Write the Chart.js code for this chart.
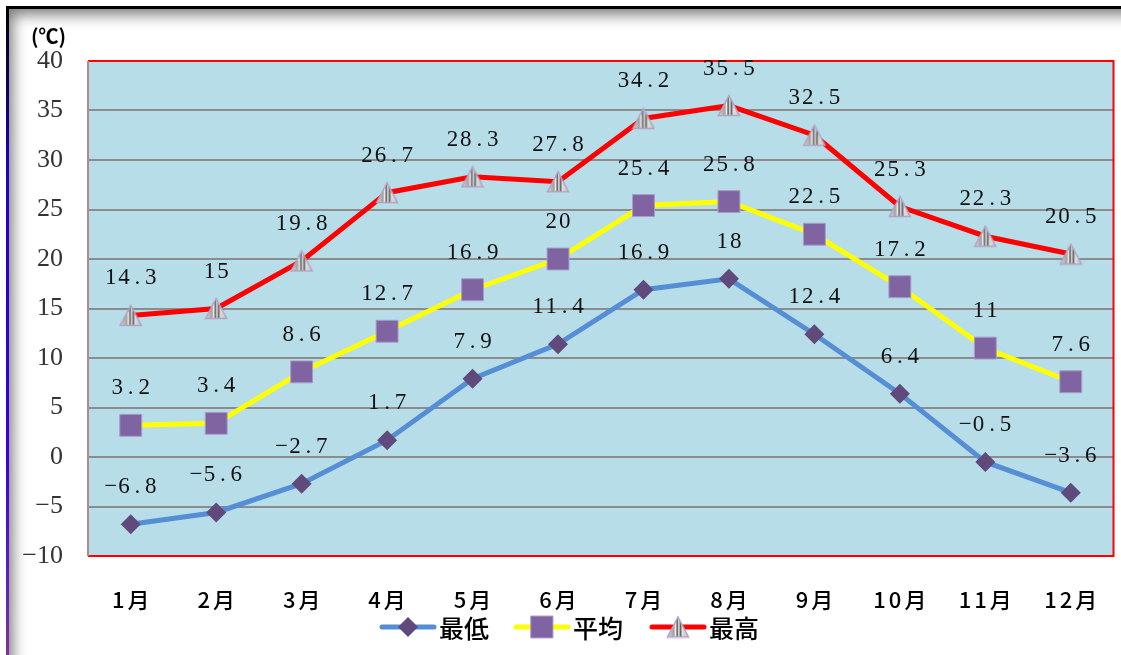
<!DOCTYPE html>
<html>
<head>
<meta charset="utf-8">
<script src="https://cdn.jsdelivr.net/npm/chart.js@4"></script>
<style>
html,body{margin:0;padding:0;background:#fff;}
#wrap{position:relative;width:1121px;height:655px;overflow:hidden;}
#frame{position:absolute;left:7px;top:6px;right:-30px;bottom:-30px;border-top:3px solid #000;box-shadow:inset 12px 12px 14px -6px rgba(0,0,0,.5);}
#lbar{position:absolute;left:6px;top:6px;width:3px;bottom:0;background:linear-gradient(#000,#2000c0 25%,#3a00e0 70%,#8030a0);}
canvas{position:absolute;left:0;top:0;}
</style>
</head>
<body>
<div id="wrap">
  <div id="frame"></div>
  <div id="lbar"></div>
  <canvas id="tempChart" width="1130" height="655"></canvas>
</div>
<script>
const months = ['1月','2月','3月','4月','5月','6月','7月','8月','9月','10月','11月','12月'];
const lowTemps  = [-6.8, -5.6, -2.7, 1.7, 7.9, 11.4, 16.9, 18, 12.4, 6.4, -0.5, -3.6];
const avgTemps  = [3.2, 3.4, 8.6, 12.7, 16.9, 20, 25.4, 25.8, 22.5, 17.2, 11, 7.6];
const highTemps = [14.3, 15, 19.8, 26.7, 28.3, 27.8, 34.2, 35.5, 32.5, 25.3, 22.3, 20.5];
const seriesNames = ['最低','平均','最高'];
const yMin = -10, yMax = 40, yStep = 5;

function fmt(v){ return v < 0 ? '\u2212' + Math.abs(v) : String(v); }

// striped grey triangle used as the marker for 最高
function makeTriangle(){
  const c = document.createElement('canvas');
  c.width = 24; c.height = 23;
  const g = c.getContext('2d');
  const grad = g.createLinearGradient(2,0,22,0);
  grad.addColorStop(0,'#d8d8d8');
  grad.addColorStop(0.3,'#a0a0a0');
  grad.addColorStop(0.38,'#f4f4f4');
  grad.addColorStop(0.46,'#505050');
  grad.addColorStop(0.54,'#f0f0f0');
  grad.addColorStop(0.62,'#606060');
  grad.addColorStop(0.72,'#e0e0e0');
  grad.addColorStop(1,'#c0c0c0');
  g.beginPath();
  g.moveTo(12,1.5); g.lineTo(22.5,21.5); g.lineTo(1.5,21.5); g.closePath();
  g.fillStyle = grad; g.fill();
  g.strokeStyle = '#b3a2c7'; g.lineWidth = 1.5; g.stroke();
  return c;
}
const triImg = makeTriangle();

const markers = [
  {pointStyle:'rectRot', radius:10, bg:'#604a7b', border:'#604a7b', bw:0},
  {pointStyle:'rect', radius:15.5, bg:'#8064a2', border:'#a99bc9', bw:1},
  {pointStyle:triImg, radius:11, bg:'#999', border:'#999', bw:0}
];
const lineColors = ['#558ed5','#ffff00','#ff0000'];
const serifFont = 'Liberation Serif, Times New Roman, DejaVu Serif, serif';

const plotBg = {
  id:'plotBg',
  beforeDraw(chart){
    const {ctx, chartArea:a} = chart;
    ctx.save();
    ctx.fillStyle = '#b7dde8';
    ctx.fillRect(a.left, a.top, a.right-a.left, a.bottom-a.top);
    ctx.restore();
  },
  afterDatasetsDraw(chart){
    const {ctx, chartArea:a} = chart;
    ctx.save();
    // plot border
    ctx.lineWidth = 2;
    ctx.strokeStyle = '#ff0000';
    ctx.beginPath();
    ctx.moveTo(a.left, a.top); ctx.lineTo(a.right, a.top);
    ctx.lineTo(a.right, a.bottom); ctx.lineTo(a.left, a.bottom);
    ctx.stroke();
    ctx.strokeStyle = '#b08a8e';
    ctx.beginPath(); ctx.moveTo(a.left, a.top); ctx.lineTo(a.left, a.bottom); ctx.stroke();

    // value labels, fixed-width cells like the original
    ctx.font = '23px ' + serifFont;
    ctx.fillStyle = '#111';
    ctx.textAlign = 'center';
    ctx.textBaseline = 'middle';
    const cell = 13.4;
    chart.data.datasets.forEach((ds, di) => {
      chart.getDatasetMeta(di).data.forEach((pt, i) => {
        const s = fmt(ds.data[i]);
        const x0 = pt.x - cell * s.length / 2 + cell / 2;
        for (let k = 0; k < s.length; k++) {
          ctx.fillText(s[k], x0 + k * cell, pt.y - 37);
        }
      });
    });

    // month labels, spaced out
    const xs = chart.scales.x;
    ctx.font = '500 22px "Noto Sans CJK JP", sans-serif';
    ctx.fillStyle = '#000';
    ctx.letterSpacing = '3px';
    chart.data.labels.forEach((lab, i) => {
      ctx.fillText(lab, xs.getPixelForTick(i) + 1.5, 600);
    });
    ctx.letterSpacing = '0px';

    // unit
    ctx.font = 'bold 20px "Noto Sans CJK JP", sans-serif';
    ctx.textAlign = 'left';
    ctx.fillText('(℃)', 31, 36);

    // legend: line + marker + name
    const ly = 627;
    const starts = [380, 514, 650];
    chart.data.datasets.forEach((ds, di) => {
      const x = starts[di];
      ctx.strokeStyle = lineColors[di];
      ctx.lineWidth = 5;
      ctx.lineCap = 'round';
      ctx.beginPath(); ctx.moveTo(x+2, ly); ctx.lineTo(x+54, ly); ctx.stroke();
      const m = markers[di];
      ctx.fillStyle = m.bg; ctx.strokeStyle = m.border; ctx.lineWidth = m.bw;
      Chart.helpers.drawPoint(ctx, {pointStyle:m.pointStyle, radius:m.radius, borderWidth:m.bw}, x+28, ly);
      ctx.fillStyle = '#000';
      ctx.font = '500 25px "Noto Sans CJK JP", sans-serif';
      ctx.textAlign = 'left';
      ctx.fillText(ds.label, x+59, ly+1);
    });
    ctx.restore();
  }
};

const series = [lowTemps, avgTemps, highTemps];

new Chart(document.getElementById('tempChart'), {
  type: 'line',
  data: {
    labels: months,
    datasets: series.map((d, i) => ({
      label: seriesNames[i],
      data: d,
      borderColor: lineColors[i],
      borderWidth: 5,
      tension: 0,
      pointStyle: markers[i].pointStyle,
      pointRadius: markers[i].radius,
      pointHoverRadius: markers[i].radius,
      pointBackgroundColor: markers[i].bg,
      pointBorderColor: markers[i].border,
      pointBorderWidth: markers[i].bw,
      order: 3 - i
    }))
  },
  options: {
    responsive: false,
    animation: false,
    devicePixelRatio: 1,
    layout: { padding: { top: 61, right: 0, left: 0, bottom: 0 } },
    plugins: { legend: { display: false }, tooltip: { enabled: false } },
    scales: {
      x: {
        offset: true,
        grid: { display: false, drawTicks: false },
        border: { display: false },
        ticks: { display: false },
        afterFit(s){ s.height = 99; }
      },
      y: {
        min: yMin, max: yMax,
        grid: { color: '#8c8c8c', lineWidth: 2, drawTicks: false },
        border: { display: false },
        ticks: {
          stepSize: yStep, padding: 25, color: '#333',
          font: { family: serifFont, size: 26 },
          callback: v => fmt(v)
        },
        afterFit(s){ s.width = 88; }
      }
    }
  },
  plugins: [plotBg]
});
</script>
</body>
</html>
